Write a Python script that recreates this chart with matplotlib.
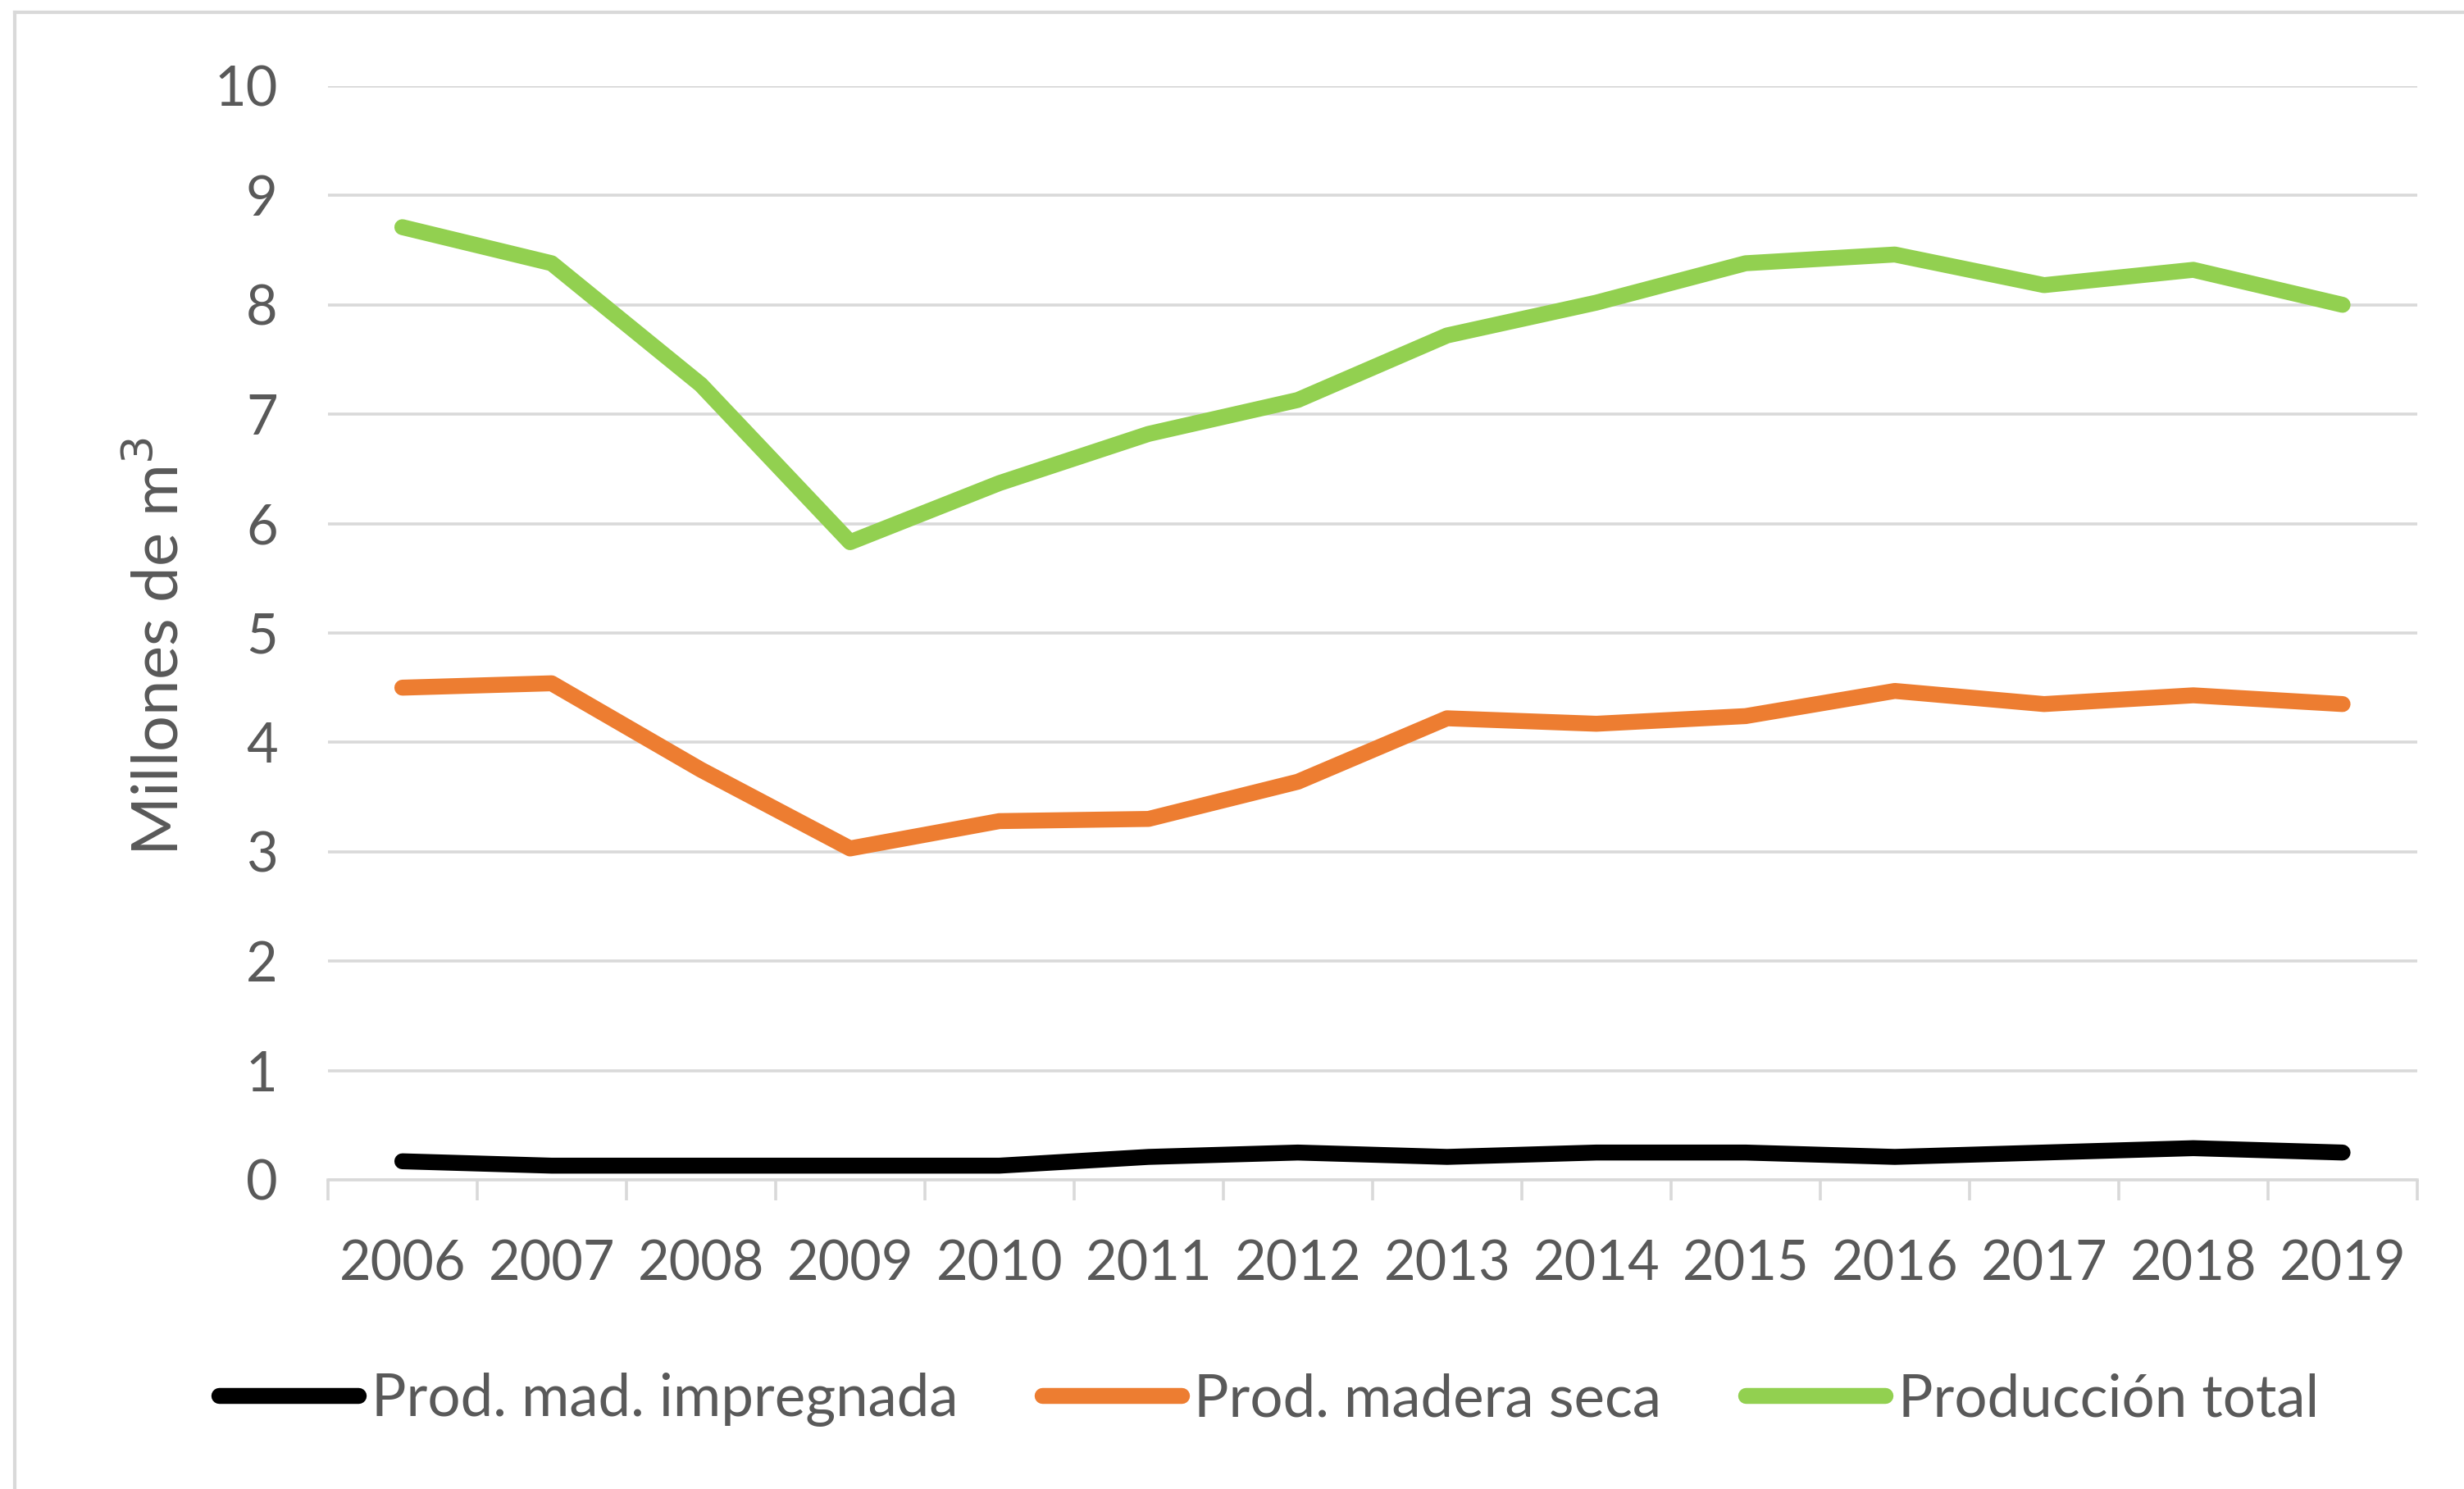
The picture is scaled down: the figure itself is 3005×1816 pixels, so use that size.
import numpy as np
import matplotlib
matplotlib.use("Agg")
import matplotlib.pyplot as plt
from matplotlib.lines import Line2D

# Datos (millones de m3)
years = [str(y) for y in range(2006, 2020)]
impregnada = [0.17, 0.13, 0.13, 0.13, 0.13, 0.21, 0.25, 0.21, 0.25, 0.25, 0.21, 0.25, 0.29, 0.25]
madera_seca = [4.50, 4.54, 3.75, 3.03, 3.28, 3.30, 3.64, 4.22, 4.17, 4.24, 4.47, 4.35, 4.43, 4.35]
total = [8.71, 8.38, 7.27, 5.83, 6.37, 6.82, 7.13, 7.72, 8.02, 8.38, 8.46, 8.18, 8.32, 8.00]

series_names = ["Prod. mad. impregnada", "Prod. madera seca", "Producción total"]
colors = ["#000000", "#ED7D31", "#92D050"]

plt.rcParams["font.family"] = ["Lato", "DejaVu Sans"]
txt = "#595959"

fig = plt.figure(figsize=(15.025, 9.08), dpi=200)
ax = fig.add_axes([0.133, 0.2076, 0.848, 0.7346])

x = np.arange(len(years))
for vals, c, name in zip([impregnada, madera_seca, total], colors, series_names):
    ax.plot(x, vals, color=c, lw=7, solid_capstyle="round",
            solid_joinstyle="round", label=name, zorder=3)

ax.set_xlim(-0.5, len(years) - 0.5)
ax.set_ylim(0, 10)
ax.set_yticks(range(0, 11))
ax.yaxis.grid(True, color="#D9D9D9", lw=1.3)
ax.set_axisbelow(True)
ax.tick_params(axis="y", length=0, pad=22, labelsize=24, labelcolor=txt)

# marcas en los bordes de categoría, etiquetas en el centro
ax.set_xticks(np.arange(-0.5, len(years)))
ax.set_xticklabels([])
ax.tick_params(axis="x", which="major", length=9, width=1.3, color="#D9D9D9")
ax.set_xticks(x, minor=True)
ax.set_xticklabels(years, minor=True)
ax.tick_params(axis="x", which="minor", length=0, pad=26, labelsize=24, labelcolor=txt)

for s in ["top", "right", "left"]:
    ax.spines[s].set_visible(False)
ax.spines["bottom"].set_color("#D9D9D9")
ax.spines["bottom"].set_linewidth(1.3)

ax.set_ylabel("Millones de m$^3$", fontsize=28, color=txt)
ax.yaxis.set_label_coords(-0.066, 0.488)

handles = [Line2D([], [], color=c, lw=7, solid_capstyle="round") for c in colors]
fig.legend(handles, series_names, loc="center", bbox_to_anchor=(0.515, 0.06),
           ncol=3, frameon=False, fontsize=25.5, labelcolor=txt,
           handlelength=2.4, handletextpad=0.22, columnspacing=1.45)

# borde exterior del gráfico
fig.add_artist(Line2D([0.006, 0.006], [0, 0.992], color="#D9D9D9", lw=1.5,
                      transform=fig.transFigure))
fig.add_artist(Line2D([0.006, 1.0], [0.992, 0.992], color="#D9D9D9", lw=1.5,
                      transform=fig.transFigure))

fig.savefig("out.png", dpi=200)
